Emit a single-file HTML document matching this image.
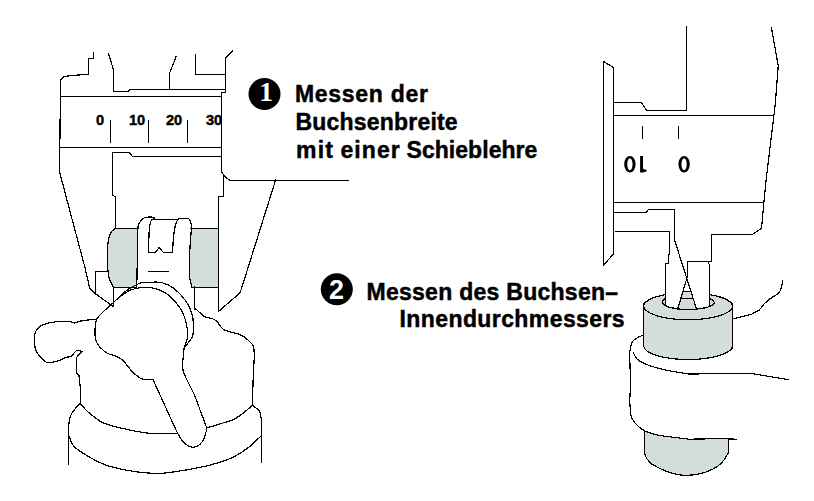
<!DOCTYPE html>
<html><head><meta charset="utf-8">
<style>
html,body{margin:0;padding:0;background:#fff;width:814px;height:501px;overflow:hidden}
svg{position:absolute;left:0;top:0}
.t{position:absolute;font-family:"Liberation Sans",sans-serif;font-weight:bold;color:#000;white-space:nowrap;line-height:1;-webkit-text-stroke:0.45px #000}
</style></head><body>
<svg width="814" height="501" viewBox="0 0 814 501">
<g fill="none" stroke="#000" stroke-width="1.2" stroke-linejoin="round" stroke-linecap="round" shape-rendering="crispEdges">
<!-- LEFT CALIPER -->
<!-- gray fills -->
<path fill="#d3dedb" stroke="none" d="M115.2,228.2 L137,228.2 L137,287.2 L113.4,287.2 L109.5,279.5 L108,271.5 L107.4,261.3 L107.5,251 L108.2,241 L110.5,233 Z"/>
<path fill="#d3dedb" stroke="none" d="M190.6,228.2 L218.8,228.2 L218.8,287 L191.8,287 L189.9,279.3 L189.2,262 L190.3,239.1 Z"/>
<!-- outer left contour -->
<polyline points="93.5,53 93.5,58.5 88.5,58.5 88.5,74.3 74.1,75.3 66.7,76.2 63,77.1 60.5,79.9 59.6,172 70.4,213 84.8,267 89.6,287.8 93.7,292.5 112.4,306"/>
<!-- left jaw top -->
<polyline points="108.5,53.9 113.5,69.7 113.5,74.3 113.5,91.5 128,91.5 129.8,89.5 225.5,89.5"/>
<polyline points="176.2,56.3 169.5,73.4 169.5,89.2"/>
<polyline points="195.5,54.9 195.5,74.5 225.5,74.5"/>
<polyline points="232.7,51.1 225.5,58 225.5,92.5 221.5,92.5 221.5,171.8 223.4,174.6 227,178.2 229.9,180.5 348,180.5"/>
<line x1="60.6" y1="96.5" x2="221.6" y2="96.5"/>
<line x1="60.6" y1="147.5" x2="221.6" y2="147.5"/>
<line x1="110.5" y1="121" x2="110.5" y2="142.6"/>
<line x1="148.5" y1="121" x2="148.5" y2="142.6"/>
<line x1="187.5" y1="121" x2="187.5" y2="142.6"/>
<polyline points="221.6,156.5 132.6,156.5 128.9,152.5 112.5,152.5 112.5,195.2 115.5,197 115.5,228.2"/>
<polyline points="223.5,174.6 223.5,196.5 218.5,196.5 218.5,311.5 240.2,292.7 275.8,179.3"/>
<!-- gray outlines -->
<polyline points="138,228.5 115.2,228.5"/>
<path d="M115.2,228.2 C114.42,229.00 111.67,230.87 110.5,233 C109.33,235.13 108.70,238.00 108.2,241 C107.70,244.00 107.63,247.62 107.5,251 C107.37,254.38 107.32,257.88 107.4,261.3 C107.48,264.72 107.65,268.47 108,271.5 C108.35,274.53 108.60,276.87 109.5,279.5 C110.40,282.13 112.75,286.00 113.4,287.3"/>
<polyline points="113.4,287.5 135.9,287.5"/>
<polyline points="190.6,228.5 218.8,228.5"/>
<polyline points="189.1,275 191.8,287.5 218.8,287.5"/>
<!-- fork -->
<path d="M136.8,287.3 C136.87,283.08 137.05,271.60 137.2,262 C137.35,252.40 137.25,236.32 137.7,229.7 C138.15,223.08 139.02,224.15 139.9,222.3 C140.78,220.45 141.87,219.43 143,218.6 C144.13,217.77 144.95,217.52 146.7,217.3 C148.45,217.08 152.15,216.98 153.5,217.3 C154.85,217.62 154.58,218.88 154.8,219.2"/>
<polyline points="154.8,219.5 177.6,219.5"/>
<path d="M177.6,219.2 C177.92,219.10 177.73,218.70 179.5,218.6 C181.27,218.50 186.35,218.08 188.2,218.6 C190.05,219.12 190.08,220.05 190.6,221.7 C191.12,223.35 191.40,224.28 191.3,228.5 C191.20,232.72 190.32,241.42 190,247 C189.68,252.58 189.55,257.33 189.4,262 C189.25,266.67 189.15,272.83 189.1,275"/>
<path d="M154.1,218.6 C153.58,219.00 151.82,218.95 151,221 C150.18,223.05 149.60,225.73 149.2,230.9 C148.80,236.07 148.70,248.48 148.6,252"/>
<polyline points="148.6,252.5 155.4,252.5 159.1,247.6 163.4,252.5 172.7,252.5"/>
<path d="M172.7,252 C172.80,249.93 172.88,243.93 173.3,239.6 C173.72,235.27 174.48,229.30 175.2,226 C175.92,222.70 176.88,221.03 177.6,219.8 C178.32,218.57 179.18,218.80 179.5,218.6"/>
<line x1="148.3" y1="271.5" x2="168.7" y2="271.5"/>
<!-- small rect -->
<polyline points="95.5,292.5 95.5,271.5 107.2,271.5"/>
<line x1="113.5" y1="287.4" x2="113.5" y2="306"/>
<polyline points="194.5,287 194.5,309.7 195.5,308.7"/>
<!-- knob -->
<path d="M142.4,379.1 C141.93,378.87 141.23,378.87 139.6,377.7 C137.97,376.53 135.40,375.00 132.6,372.1 C129.80,369.20 125.58,362.97 122.8,360.3 C120.02,357.63 118.45,357.27 115.9,356.1 C113.35,354.93 110.17,354.80 107.5,353.3 C104.83,351.80 101.87,349.33 99.9,347.1 C97.93,344.87 96.50,343.08 95.7,339.9 C94.90,336.72 94.90,331.48 95.1,328 C95.30,324.52 95.32,321.92 96.9,319 C98.48,316.08 102.02,313.08 104.6,310.5 C107.18,307.92 109.67,306.00 112.4,303.5 C115.13,301.00 118.40,297.83 121,295.5 C123.60,293.17 124.70,291.58 128,289.5 C131.30,287.42 137.13,284.20 140.8,283 C144.47,281.80 146.48,282.37 150,282.3 C153.52,282.23 157.85,281.55 161.9,282.6 C165.95,283.65 170.18,285.33 174.3,288.6 C178.42,291.87 183.57,297.67 186.6,302.2 C189.63,306.73 191.42,311.17 192.5,315.8 C193.58,320.43 193.15,326.43 193.1,330 C193.05,333.57 193.70,334.20 192.2,337.2 C190.70,340.20 185.45,346.20 184.1,348"/>
<polyline points="142.4,379.5 152.9,379.5"/>
<path d="M121,296 C122.65,294.98 127.18,291.33 130.9,289.9 C134.62,288.47 139.17,287.62 143.3,287.4 C147.43,287.18 151.57,287.37 155.7,288.6 C159.83,289.83 163.98,291.50 168.1,294.8 C172.22,298.10 177.32,303.45 180.4,308.4 C183.48,313.35 185.43,319.72 186.6,324.5 C187.77,329.28 187.82,333.18 187.4,337.1 C186.98,341.02 184.65,346.18 184.1,348"/>
<path d="M152.9,379.4 C154.97,383.92 161.15,397.47 165.3,406.5 C169.45,415.53 174.78,427.68 177.8,433.6 C180.82,439.52 181.38,439.83 183.4,442 C185.42,444.17 187.73,445.83 189.9,446.6 C192.07,447.37 194.23,447.53 196.4,446.6 C198.57,445.67 201.35,443.32 202.9,441 C204.45,438.68 205.08,434.87 205.7,432.7 C206.32,430.53 207.47,431.57 206.6,428 C205.73,424.43 202.55,416.87 200.5,411.3 C198.45,405.73 197.18,401.27 194.3,394.6 C191.42,387.93 185.05,377.57 183.2,371.3 C181.35,365.03 183.05,360.88 183.2,357 C183.35,353.12 183.95,349.50 184.1,348"/>
<!-- body right contour -->
<path d="M195.5,308.7 C197.05,310.03 202.02,315.05 204.8,316.7 C207.58,318.35 210.15,317.77 212.2,318.6 C214.25,319.43 215.15,319.85 217.1,321.7 C219.05,323.55 220.12,327.57 223.9,329.7 C227.68,331.83 235.80,332.80 239.8,334.5 C243.80,336.20 245.65,337.95 247.9,339.9 C250.15,341.85 252.25,343.35 253.3,346.2 C254.35,349.05 254.20,352.22 254.2,357 C254.20,361.78 253.60,366.83 253.3,374.9 C253.00,382.97 252.55,400.32 252.4,405.4"/>
<polyline points="252.4,405.4 259.6,410.8 261.5,420 261.5,462.4"/>
<path d="M206.6,428 C209.18,427.22 217.77,424.63 222.1,423.3 C226.43,421.97 229.50,421.38 232.6,420 C235.70,418.62 237.40,417.43 240.7,415 C244.00,412.57 250.45,407.00 252.4,405.4"/>
<!-- handle -->
<path d="M96.9,319 C94.40,319.30 85.60,320.15 81.9,320.8 C78.20,321.45 76.40,322.70 74.7,322.9 C73.00,323.10 73.50,322.25 71.7,322 C69.90,321.75 67.18,321.35 63.9,321.4 C60.62,321.45 55.58,321.70 52,322.3 C48.42,322.90 44.90,323.85 42.4,325 C39.90,326.15 38.30,327.52 37,329.2 C35.70,330.88 35.00,332.52 34.6,335.1 C34.20,337.68 34.30,342.00 34.6,344.7 C34.90,347.40 35.30,349.10 36.4,351.3 C37.50,353.50 39.40,356.00 41.2,357.9 C43.00,359.80 45.22,362.00 47.2,362.7 C49.18,363.40 50.97,362.50 53.1,362.1 C55.23,361.70 57.92,361.07 60,360.3 C62.08,359.53 63.73,358.20 65.6,357.5 C67.47,356.80 69.33,357.27 71.2,356.1 C73.07,354.93 74.95,351.27 76.8,350.5 C78.65,349.73 81.38,351.33 82.3,351.5"/>
<polyline points="82.3,351.5 77.5,356.1 76.1,358.9 76.8,373.5 78.9,374.9 80.5,388.9 80.5,403.5"/>
<path d="M80.3,403.5 C79.33,404.50 76.13,407.42 74.5,409.5 C72.87,411.58 71.45,413.42 70.5,416 C69.55,418.58 69.12,422.10 68.8,425 C68.48,427.90 68.63,432.00 68.6,433.4"/>
<polyline points="68.5,433.4 68.5,464.5"/>
<path d="M80.3,403.5 C81.43,404.77 84.65,408.77 87.1,411.1 C89.55,413.43 92.22,415.48 95,417.5 C97.78,419.52 98.92,421.32 103.8,423.2 C108.68,425.08 116.87,427.13 124.3,428.8 C131.73,430.47 141.95,432.45 148.4,433.2 C154.85,433.95 158.10,433.28 163,433.3 C167.90,433.32 175.33,433.30 177.8,433.3"/>
<path d="M68.6,435.3 C69.52,437.15 71.02,443.00 74.1,446.4 C77.18,449.80 81.83,452.60 87.1,455.7 C92.37,458.80 98.88,462.53 105.7,465 C112.52,467.47 120.27,469.12 128,470.5 C135.73,471.88 144.98,472.98 152.1,473.3 C159.22,473.62 161.77,473.60 170.7,472.4 C179.63,471.20 195.85,468.38 205.7,466.1 C215.55,463.82 222.68,461.80 229.8,458.7 C236.92,455.60 243.13,451.37 248.4,447.5 C253.67,443.63 259.23,437.50 261.4,435.5"/>
<!-- RIGHT CALIPER -->
<path fill="#d3dedb" stroke="none" d="M643.7,306.5 A44.5,13.7 0 0 1 732.6,306.5 L732.6,346.2 A44.5,14 0 0 1 643.7,346.2 Z"/>
<path fill="#fff" stroke="none" d="M665.5,250 L665.5,305 A26,7.5 0 0 0 709.4,305 L709.4,250 Z"/>
<path fill="#d3dedb" stroke="none" d="M683,291.1 L690.8,291.1 L696.9,310.5 L677.4,310.5 Z"/>
<path fill="#d3dedb" stroke="none" d="M644.6,430.8 L659.4,435.5 L689.1,439.2 L729,439.2 L728.1,453.1 C724,462 718,467 712,469.5 C704,473.5 694,475.5 683.5,475.4 C672,474.5 660,469 652,464.3 C647,460 645,456 644.6,453.1 Z"/>
<polyline points="603.5,265.2 603.5,61.5 613.5,67.6 613.5,254 603.4,265.2"/>
<polyline points="614.5,102.5 641.1,102.5 646.9,110.5 686.5,110.5 686.5,26.3"/>
<polyline points="613.4,115.5 772,115.5"/>
<polyline points="771.3,27.1 778.2,65.7 775.4,103 766.1,180 763.9,202.3 761.5,228.3 752.2,234.5 711.5,234.5 711.5,261.5 687.5,261.5 687.5,276 677.6,309.3"/>
<line x1="613.4" y1="202.5" x2="763.9" y2="202.5"/>
<line x1="642.5" y1="126.4" x2="642.5" y2="138.6"/>
<line x1="678.5" y1="126.4" x2="678.5" y2="138.6"/>
<polyline points="614.9,212.5 646,212.5 648.4,209.5 674.5,209.5 674.5,239.9 696.8,309.8"/>
<polyline points="616,231.5 669.5,231.5 669.5,254.5 668.5,254.5 668.5,263.5 665.5,263.5 665.5,265.1 665.5,305.7"/>
<polyline points="708.5,261.3 708.5,263 709.5,265.1 709.5,305.5"/>
<line x1="683" y1="291.5" x2="690.8" y2="291.5"/>
<line x1="681.2" y1="298.5" x2="693" y2="298.5"/>
<!-- bushing -->
<path d="M643.7,306.5 A44.5,13.7 0 0 1 665.5,294.6"/>
<path d="M709.4,294.6 A44.5,13.7 0 0 1 732.6,306.5"/>
<path d="M643.7,306.5 A44.5,13.9 0 0 0 732.6,306.5"/>
<path d="M665.5,298.5 A26,7.3 0 0 0 662.9,303.5 A26,7.3 0 0 0 714.1,303.5 A26,7.3 0 0 0 709.4,298.5"/>
<line x1="643.5" y1="304" x2="643.5" y2="346.2"/>
<line x1="732.5" y1="304" x2="732.5" y2="348"/>
<path d="M643.7,346.2 A44.5,14 0 0 0 732.6,346.2"/>
<!-- hand -->
<polyline points="782.7,281 780.8,289.7 778.4,293.4 769.7,299 764.7,303.3 759.2,310.1 751.1,314.5 733,318.8"/>
<path d="M643.7,335.1 C639,336.5 636,338 633,341 C630,345 629.7,350 629.7,356.4 L630.6,384.3 L629.7,401.1 L630.6,414.1 C631.5,418 633,421 635.3,423.4 C638,426.5 641,429 644.6,430.8 C650,433 654,434.5 659.4,435.5 L689.1,439.2 L720.7,438.6 L736.4,439.2"/>
<path d="M633.4,352.7 C634.5,355 635.5,357.5 637.1,359.2 C642,363 648,365.5 655.7,367.5 C666,370.5 678,372.5 689.1,374 L750.5,373.4 L788.3,379.6"/>
<path d="M644.6,430.8 L644.6,453.1 C645,456 647,460 652,464.3 C660,469 672,474.5 683.5,475.4 C694,475.5 704,473.5 712,469.5 C718,467 724,462 728.1,453.1 L729,439.2"/>
</g>
<path fill="#000" fill-rule="evenodd" d="M624.20,164.25 A5.7,8.35 0 1 0 635.60,164.25 A5.7,8.35 0 1 0 624.20,164.25 Z M627.25,164.25 A2.65,5.9 0 1 0 632.55,164.25 A2.65,5.9 0 1 0 627.25,164.25 Z"/>
<path fill="#000" fill-rule="evenodd" d="M678.40,164.25 A5.7,8.35 0 1 0 689.80,164.25 A5.7,8.35 0 1 0 678.40,164.25 Z M681.45,164.25 A2.65,5.9 0 1 0 686.75,164.25 A2.65,5.9 0 1 0 681.45,164.25 Z"/>
<path fill="#000" d="M640.1,155.9 L643,155.9 L643,168.8 L646.6,169.9 L646.6,171.6 L643,172.6 L640.1,172.6 Z"/>
<circle cx="264.5" cy="94" r="16" fill="#000"/>
<circle cx="336.8" cy="289.2" r="16" fill="#000"/>
<text x="266" y="100.8" text-anchor="middle" font-family="Liberation Serif" font-weight="bold" font-size="27.5" fill="#fff">1</text>
<text x="336.6" y="299.3" text-anchor="middle" font-family="Liberation Sans" font-weight="bold" font-size="27" fill="#fff">2</text>
</svg>
<div class="t" style="left:295px;top:82.5px;font-size:23px;letter-spacing:0.7px">Messen der</div>
<div class="t" style="left:295.5px;top:111px;font-size:23px;letter-spacing:0.2px">Buchsenbreite</div>
<div class="t" style="left:296px;top:139.3px;font-size:23px;letter-spacing:1.2px">mit</div>
<div class="t" style="left:340.5px;top:139.3px;font-size:23px;letter-spacing:1.05px">einer</div>
<div class="t" style="left:406.5px;top:139.3px;font-size:23px;letter-spacing:0.05px">Schieblehre</div>
<div class="t" style="left:366.5px;top:280.5px;font-size:23px;letter-spacing:0.27px">Messen des Buchsen–</div>
<div class="t" style="left:399.5px;top:308px;font-size:23px;letter-spacing:0.41px">Innendurchmessers</div>
<div class="t" style="left:96px;top:112.8px;font-size:14.6px">0</div>
<div class="t" style="left:129px;top:112.8px;font-size:14.6px">10</div>
<div class="t" style="left:166px;top:112.8px;font-size:14.6px">20</div>
<div class="t" style="left:206px;top:112.8px;font-size:14.6px">30</div>

</body></html>
